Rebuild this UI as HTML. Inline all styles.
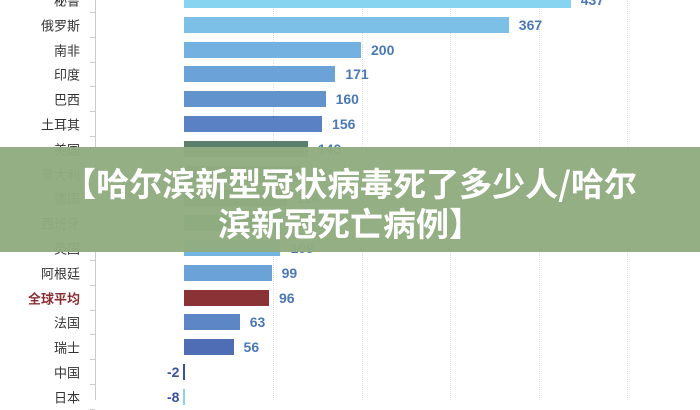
<!DOCTYPE html><html><head><meta charset="utf-8"><style>
body{margin:0;width:700px;height:400px;background:#fff;overflow:hidden;position:relative;font-family:"Liberation Sans","Noto Sans CJK SC",sans-serif}
.l{position:absolute;right:620px;font-size:13px;color:#333;transform:translateY(-50%);white-space:nowrap}
.b{position:absolute;left:184px;height:16px}
.v{position:absolute;font-size:14px;font-weight:bold;transform:translateY(-50%)}
.g{position:absolute;top:0;height:400px;border-left:1px dotted #ddd}
.t{position:absolute;left:90px;width:5px;border-top:1px solid #ccc}
#ov{position:absolute;left:0;top:147px;width:700px;height:105px;background:rgba(145,172,128,0.97)}
#tt{position:absolute;left:0;width:700px;text-align:center;color:#fff;font-weight:bold;font-size:33px;line-height:40px;top:162px;font-family:"Noto Sans CJK SC",sans-serif}
</style></head><body>
<div style="position:absolute;left:95px;top:0;height:400px;border-left:1px solid #ccc"></div>
<div class="g" style="left:273px"></div><div class="g" style="left:362px"></div><div class="g" style="left:450px"></div><div class="g" style="left:539px"></div><div class="g" style="left:627px"></div>
<div id="c"></div>
<script>
var d=[["秘鲁",437,"#87d4f1"],["俄罗斯",367,"#7cc0e7"],["南非",200,"#73b1e1"],["印度",171,"#6ba2d8"],["巴西",160,"#6393cd"],["土耳其",156,"#5a81c3"],["美国",140,"#5a7f6c"],["意大利",133,"#5a8a70"],["德国",116,"#60a080"],["西班牙",110,"#60a080"],["英国",109,"#72b4e2"],["阿根廷",99,"#6ba2d8"],["全球平均",96,"#8b3236"],["法国",63,"#5d86c7"],["瑞士",56,"#4f6db4"],["中国",-2,"#3c4f9a"],["日本",-8,"#87d4f1"]];
var h="";
d.forEach(function(r,i){var y=i*24.8,w=r[1]*0.885;
var red=r[0]=="全球平均";
h+='<div class="l" style="top:'+y+'px;'+(red?'color:#8b2e33;font-weight:bold':'')+'">'+r[0]+'</div>';
h+='<div class="t" style="top:'+(y+12)+'px"></div>';
if(w>0){h+='<div class="b" style="top:'+(y-8)+'px;width:'+w+'px;background:'+r[2]+'"></div>';
h+='<div class="v" style="top:'+y+'px;left:'+(184+w+10)+'px;color:#4a78b8">'+r[1]+'</div>';}
else{h+='<div class="b" style="top:'+(y-8)+'px;left:183px;width:2px;background:'+r[2]+'"></div>';
h+='<div class="v" style="top:'+y+'px;left:167px;color:#3c4f9a">'+r[1]+'</div>';}
});
document.getElementById("c").innerHTML=h;
</script>
<div id="ov"></div>
<div id="tt">【哈尔滨新型冠状病毒死了多少人/哈尔<br>滨新冠死亡病例】</div>
</body></html>
